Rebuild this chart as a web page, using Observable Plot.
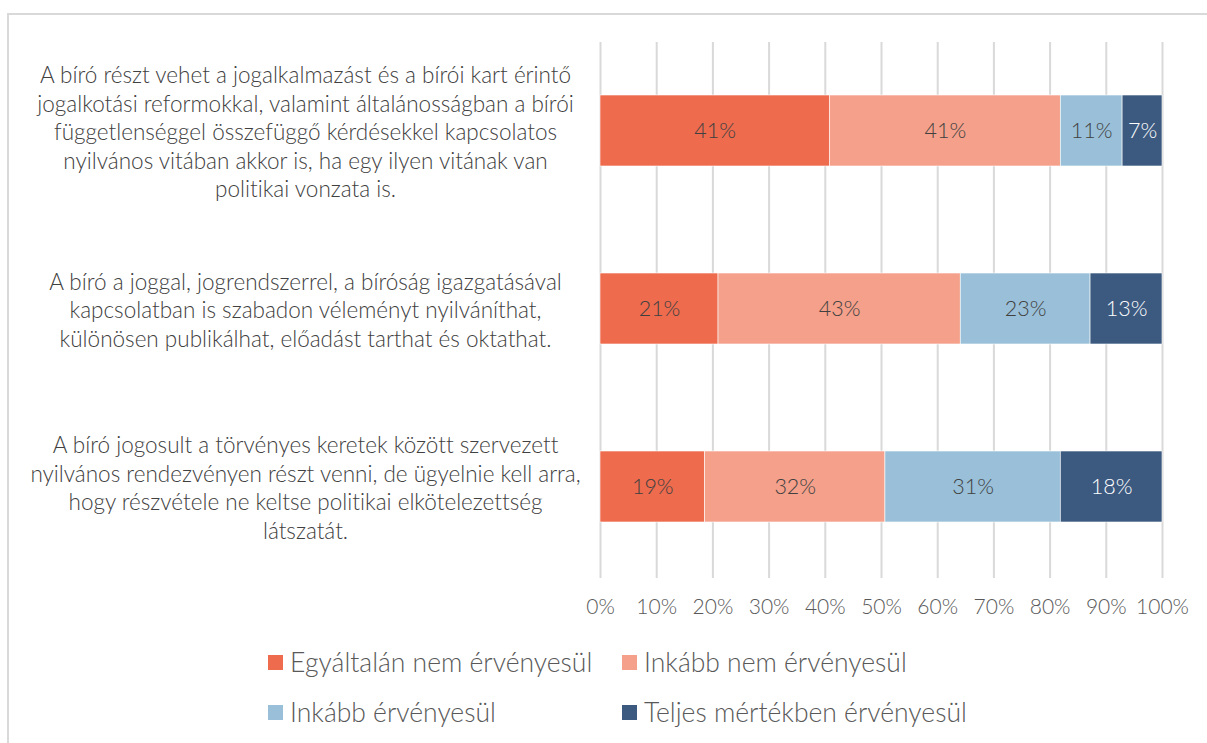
<!DOCTYPE html>
<html><head><meta charset="utf-8">
<script src="https://cdn.jsdelivr.net/npm/d3@7"></script>
<script src="https://cdn.jsdelivr.net/npm/@observablehq/plot@0.6"></script>
<style>
html,body{margin:0;padding:0;background:#fff;width:1207px;height:743px;overflow:hidden;font-family:Lato,"Open Sans",sans-serif;font-variant-ligatures:none;}
svg text{font-variant-ligatures:none;}
#frame{position:absolute;left:7px;top:13px;width:1400px;height:900px;border:2px solid #D9D9D9;box-sizing:border-box;}
#chart{position:absolute;left:0;top:0;}
#legend{position:absolute;left:0;top:0;width:1207px;height:743px;pointer-events:none;}
.li{position:absolute;display:flex;align-items:center;font-size:26.5px;color:#595959;font-weight:300;white-space:nowrap;}
.sw{width:15px;height:15px;margin-right:7px;}
</style></head><body>
<div id="frame"></div>
<div id="chart"></div>
<div id="legend"></div>
<script>
const categories = [
  "A bíró részt vehet a jogalkalmazást és a bírói kart érintő\njogalkotási reformokkal, valamint általánosságban a bírói\nfüggetlenséggel összefüggő kérdésekkel kapcsolatos\nnyilvános vitában akkor is, ha egy ilyen vitának van\npolitikai vonzata is.",
  "A bíró a joggal, jogrendszerrel, a bíróság igazgatásával\nkapcsolatban is szabadon véleményt nyilváníthat,\nkülönösen publikálhat, előadást tarthat és oktathat.",
  "A bíró jogosult a törvényes keretek között szervezett\nnyilvános rendezvényen részt venni, de ügyelnie kell arra,\nhogy részvétele ne keltse politikai elkötelezettség\nlátszatát."
];
const seriesNames = ["Egyáltalán nem érvényesül","Inkább nem érvényesül","Inkább érvényesül","Teljes mértékben érvényesül"];
const seriesColors = ["#EE6B4E","#F4A08B","#9AC0D9","#3C5A80"];
const labelColors = ["#404040","#404040","#404040","#FFFFFF"];
const egyaltalan = [40.8, 21.0, 18.6];
const inkabbNem = [41.1, 43.1, 32.1];
const inkabb = [11.0, 23.1, 31.2];
const teljes = [7.1, 12.8, 18.1];
const xTicks = [0,10,20,30,40,50,60,70,80,90,100];

const seriesValues = [egyaltalan, inkabbNem, inkabb, teljes];
const data = [];
categories.forEach((c, i) => seriesNames.forEach((s, j) => data.push({cat: c, series: s, value: seriesValues[j][i], lc: labelColors[j]})));

const plot = Plot.plot({
  width: 1207, height: 630,
  marginLeft: 600, marginRight: 45, marginTop: 42, marginBottom: 54,
  style: {fontFamily: "Lato, 'Open Sans', sans-serif", color: "#595959", background: "transparent"},
  x: {domain: [0, 100], ticks: xTicks, axis: null, label: null},
  y: {domain: categories, paddingInner: 0.6, paddingOuter: 0.3, axis: null},
  color: {domain: seriesNames, range: seriesColors},
  marks: [
    Plot.ruleX(xTicks, {x: d => d, y1: null, y2: null, stroke: "#D9D9D9", strokeWidth: 2, insetBottom: -2}),
    Plot.barX(data, {x: "value", y: "cat", fill: "series", order: seriesNames, stroke: "#fff", strokeWidth: 0.6}),
    Plot.text(data, Plot.stackX({x: "value", y: "cat", z: "series", order: seriesNames, text: d => Math.round(d.value) + "%", fill: "lc", fontSize: 21.5, fontWeight: 300})),
    Plot.axisX({ticks: xTicks, tickFormat: d => d + "%", tickSize: 0, tickPadding: 23, fontSize: 21, fontWeight: 300, anchor: "bottom", label: null}),
    Plot.text(categories, {y: d => d, frameAnchor: "left", dx: -295, textAnchor: "middle", fontSize: 22.5, fontWeight: 300, lineHeight: 1.27, fill: "#404040"})
  ]
});
document.getElementById("chart").appendChild(plot);

const legendPos = [[268, 663],[622, 663],[268, 713],[622, 713]];
const lg = document.getElementById("legend");
seriesNames.forEach((s, j) => {
  const d = document.createElement("div");
  d.className = "li";
  d.style.left = legendPos[j][0] + "px";
  d.style.top = (legendPos[j][1] - 17) + "px";
  d.innerHTML = `<span class="sw" style="background:${seriesColors[j]}"></span><span>${s}</span>`;
  lg.appendChild(d);
});
</script>
</body></html>
